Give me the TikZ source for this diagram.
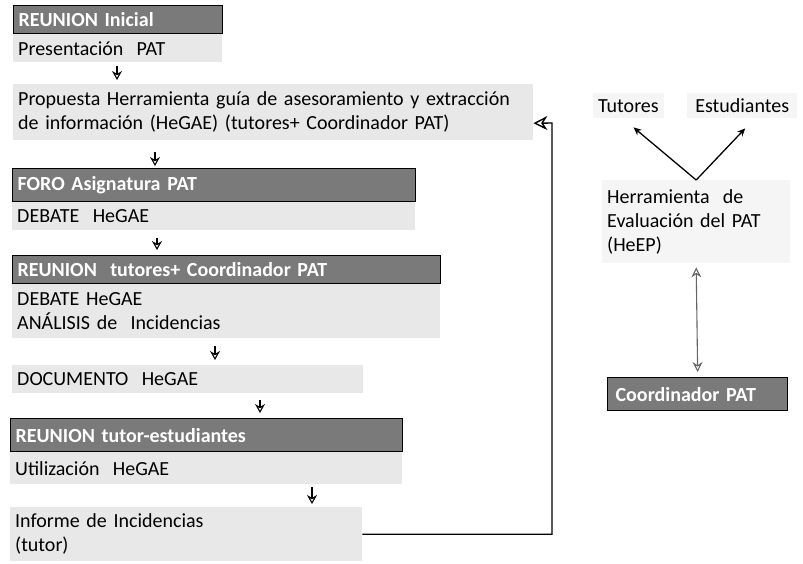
\documentclass[tikz,border=0pt]{standalone}
\usepackage{fontspec}
\setmainfont{Carlito}
\usetikzlibrary{arrows.meta}

\begin{document}
\begin{tikzpicture}[x=1pt,y=-1pt,font=\fontsize{20}{24}\selectfont,
    hdr/.style={draw=black,line width=1.3pt,fill=black!52,text=white,font=\fontsize{20}{24}\selectfont\bfseries},
    txt/.style={fill=black!9},
    lite/.style={fill=black!4}]
   \useasboundingbox (0,0) rectangle (803,563);
   \begin{scope}[every node/.style={anchor=north west,align=left,inner xsep=5pt,inner ysep=1pt}]
    % columna izquierda
    \node[hdr,text width=199pt,minimum height=28pt] (ri) at (13,5) {REUNION Inicial};
    \node[txt,text width=199pt,minimum height=28pt] (pp) at (13,34) {Presentación\ \ PAT};
    \node[txt,text width=510pt,minimum height=56pt] (ph) at (13,84) {Propuesta Herramienta guía de asesoramiento y extracción\\de información (HeGAE) (tutores+ Coordinador PAT)};
    \node[hdr,text width=393pt,minimum height=33pt] (fo) at (12,168) {FORO Asignatura PAT};
    \node[txt,text width=393pt,minimum height=28pt] (db) at (12,202) {DEBATE\ \ HeGAE};
    \node[hdr,text width=418pt,minimum height=28pt] (rt) at (12,255) {REUNION\ \ tutores+ Coordinador PAT};
    \node[txt,text width=418pt,minimum height=54pt] (da) at (12,284) {DEBATE HeGAE\\ANÁLISIS de\ \ Incidencias};
    \node[txt,text width=341pt,minimum height=28pt] (dc) at (12,365) {DOCUMENTO\ \ HeGAE};
    \node[hdr,text width=382pt,minimum height=33pt] (re) at (10,418) {REUNION tutor-estudiantes};
    \node[txt,text width=382pt,minimum height=32pt] (ut) at (10,452) {Utilización\ \ HeGAE};
    \node[txt,text width=342pt,minimum height=54pt] (ii) at (10,507) {Informe de Incidencias\\(tutor)};
    % columna derecha
    \node[lite,minimum width=69pt,minimum height=25pt] (tu) at (593,93) {Tutores};
    \node[lite,minimum width=110pt,minimum height=25pt] (es) at (687,93) {Estudiantes};
    \node[lite,text width=178pt,minimum height=83pt] (he) at (602,180) {Herramienta\ \ de\\Evaluación del PAT\\(HeEP)};
    \node[hdr,text width=164pt,minimum height=33pt,inner xsep=8pt] (co) at (607,377) {Coordinador PAT};
   \end{scope}
   \coordinate (fb) at (552,123);
   \begin{scope}[every edge/.style={draw=black,line width=1.1pt,-{Stealth[open,length=9pt,width=10pt]}}]
    \draw ([xshift=104pt]pp.south west) edge[shorten <=4pt,shorten >=4pt] ([xshift=104pt]ph.north west);
    \draw ([xshift=142pt]ph.south west) edge[shorten <=12pt,shorten >=2pt] ([xshift=143pt]fo.north west);
    \draw ([xshift=145pt]db.south west) edge[shorten <=8pt,shorten >=5pt] ([xshift=145pt]rt.north west);
    \draw ([xshift=203pt]da.south west) edge[shorten <=8pt,shorten >=5pt] ([xshift=203pt]dc.north west);
    \draw ([xshift=248pt]dc.south west) edge[shorten <=7pt,shorten >=5pt] ([xshift=250pt]re.north west);
    \draw ([xshift=302pt]ut.south west) edge[shorten <=3pt,shorten >=3pt] ([xshift=302pt]ii.north west);
   \end{scope}
   \draw[line width=1.4pt,-{Stealth[open,length=14pt,width=14pt]}] (ii.east) -| (fb) -- ([yshift=-11pt]ph.east);
   \draw[line width=1.3pt,-{Stealth[length=8pt,width=7pt]}] (he.north) -- ([xshift=5pt,yshift=-9pt]tu.south);
   \draw[line width=1.3pt,-{Stealth[length=8pt,width=7pt]}] (he.north) -- ([xshift=3pt,yshift=-10pt]es.south);
   \draw[black!60,line width=1.1pt,{Stealth[open,length=10pt,width=10pt]}-{Stealth[open,length=10pt,width=10pt]}] ([yshift=-4pt]he.south) -- ([yshift=5pt]co.north);
\end{tikzpicture}
\end{document}
